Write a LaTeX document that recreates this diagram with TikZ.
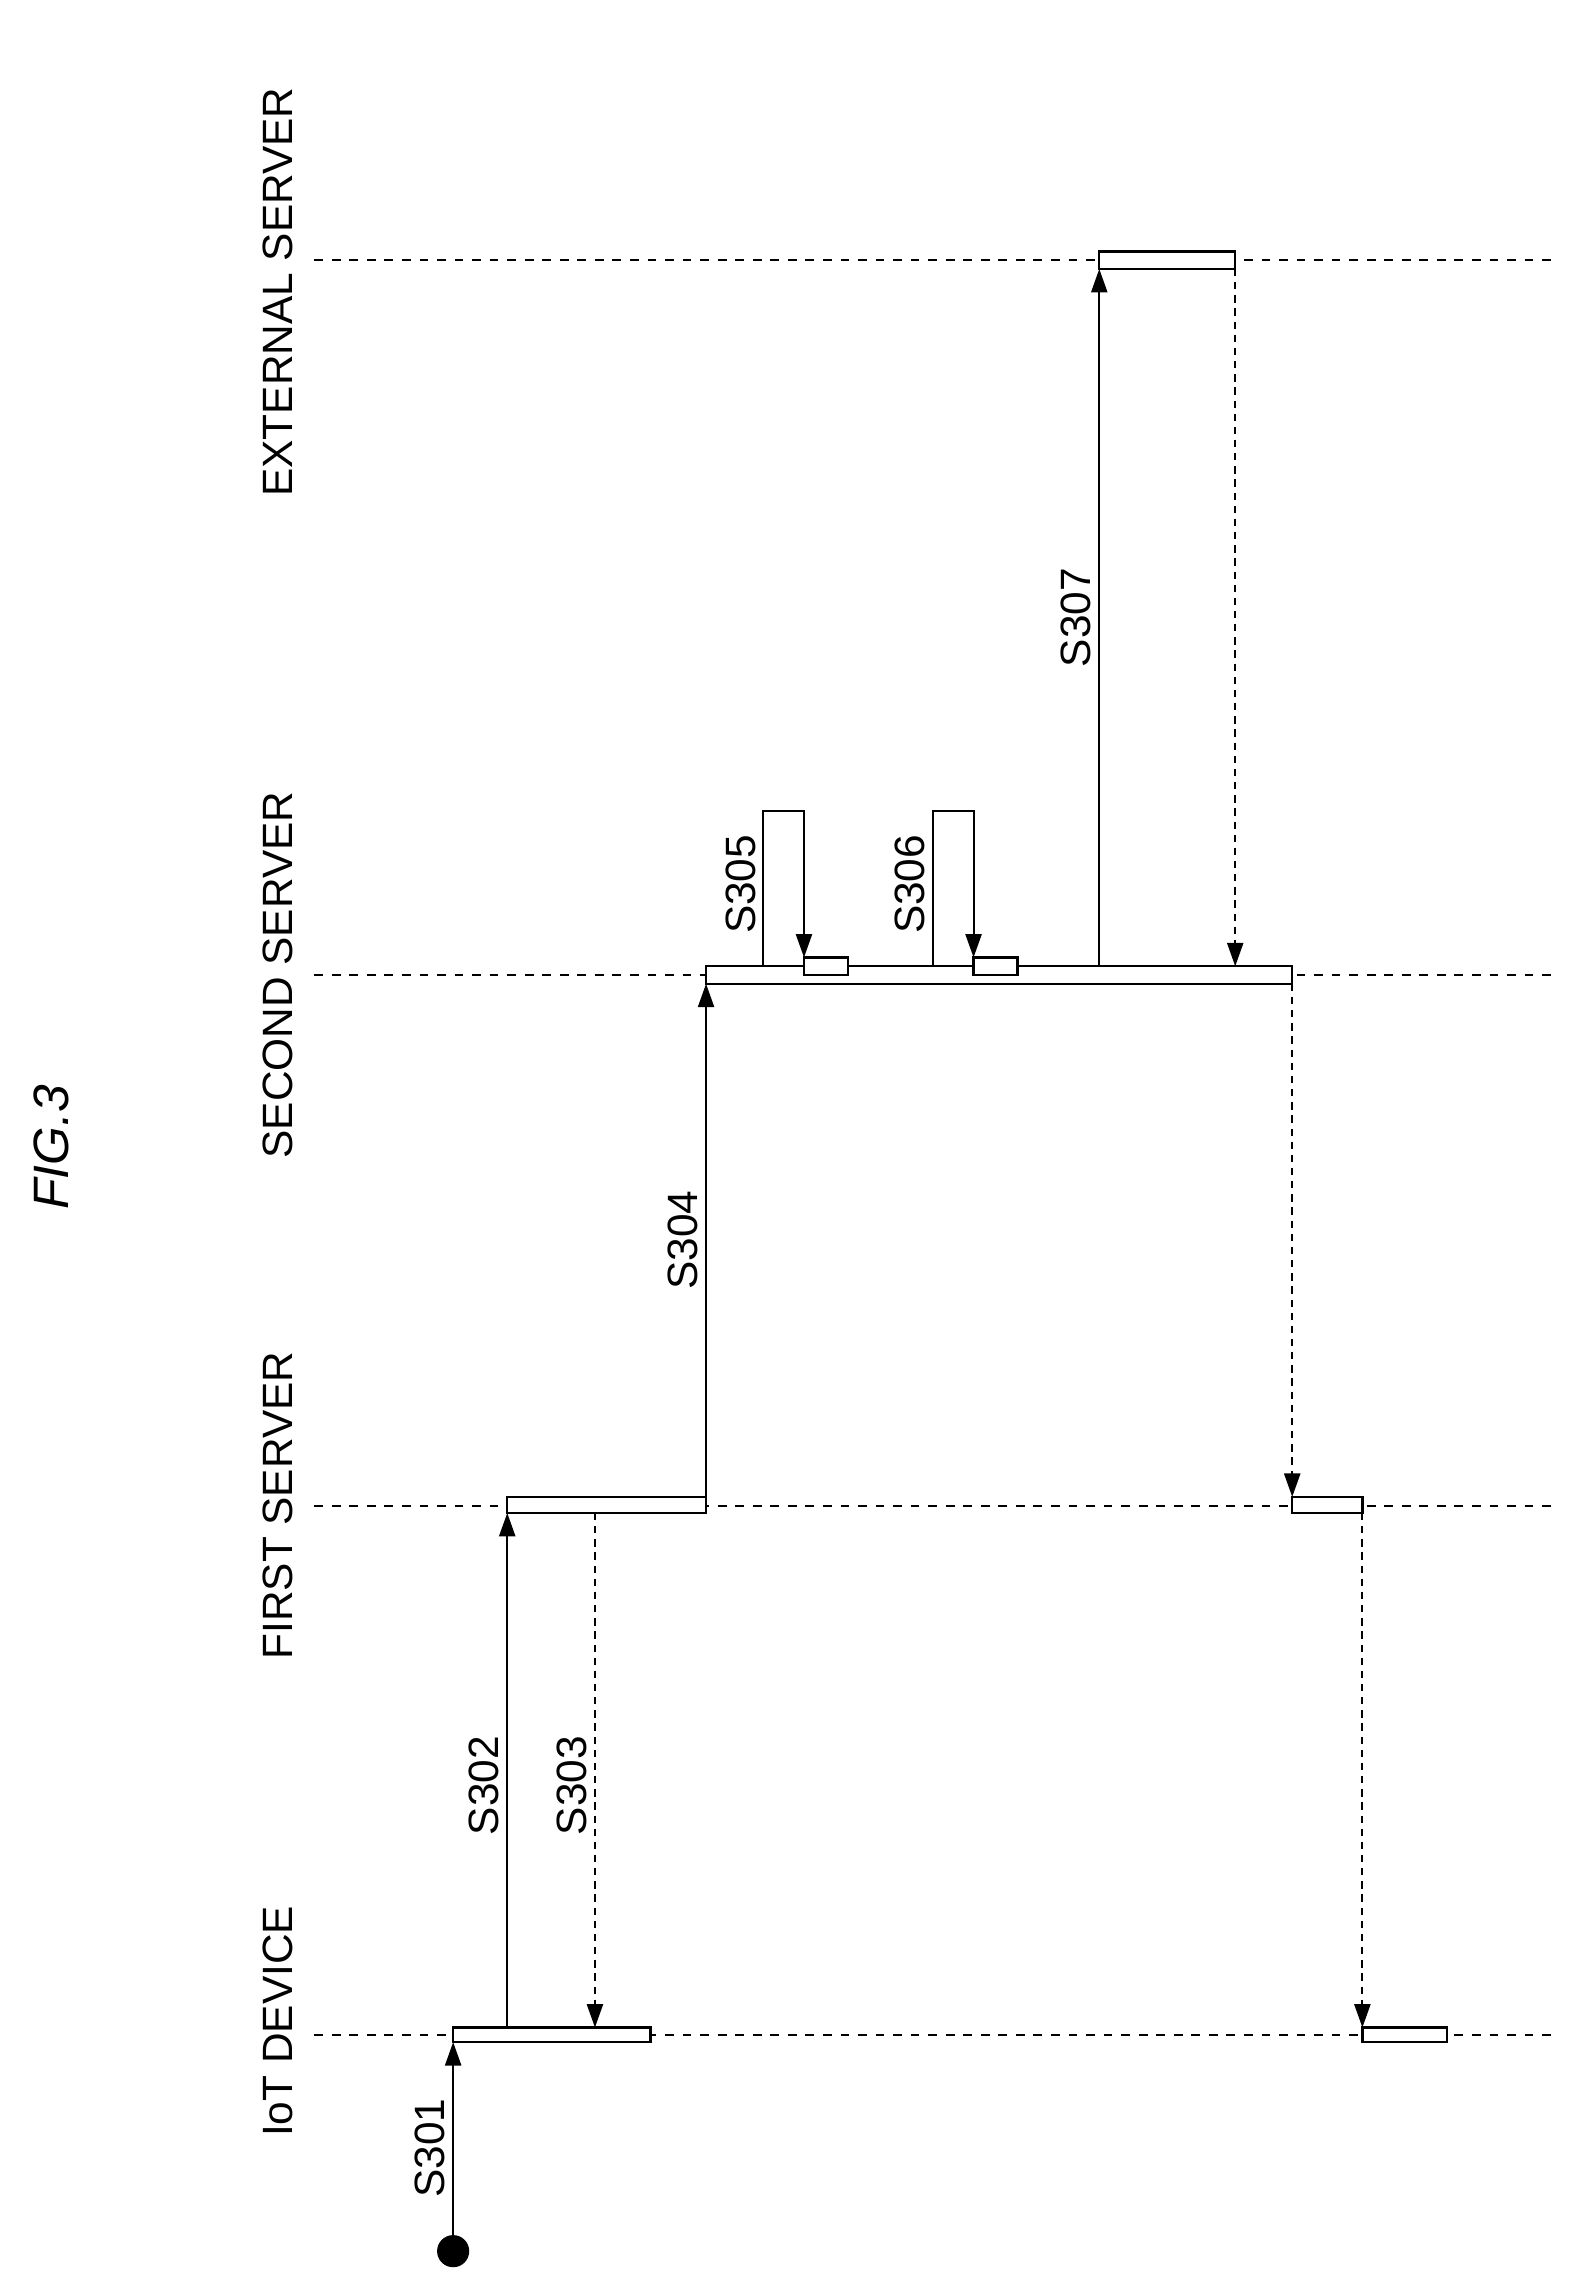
\documentclass[tikz,border=0pt]{standalone}
\usepackage{fontspec}
\setmainfont{Liberation Sans}
\usetikzlibrary{arrows.meta,positioning}
\tikzset{
  lifeline/.style={dashed,line width=1.2pt,dash pattern=on 6pt off 6pt},
  act/.style={draw,line width=1.6pt,fill=white},
  msg/.style={line width=1.4pt,-{Triangle[length=16pt,width=11pt]}},
  reply/.style={msg,dash pattern=on 5pt off 4pt},
  lbl/.style={rotate=90,font=\fontsize{29}{30}\selectfont,inner sep=0pt},
  steplbl/.style={lbl,anchor=south,inner sep=5pt},
}
\begin{document}
\begin{tikzpicture}[x=1pt,y=-1pt]
   \useasboundingbox (0,0) rectangle (1080,1570);
   % title
   \node[lbl,font=\fontsize{34}{36}\selectfont\itshape] (title) at (35,785) {FIG.3};
   % lifelines
   \node[lbl,anchor=west] (iot) at (190,1462) {IoT DEVICE};
   \node[lbl] (fs) at (190,1030) {FIRST SERVER};
   \node[lbl] (ss) at (190,667) {SECOND SERVER};
   \node[lbl,anchor=west] (es) at (190,340) {EXTERNAL SERVER};
   \coordinate (iotL) at (215,1392); \coordinate (iotR) at (1065,1392);
   \coordinate (fsL) at (215,1030); \coordinate (fsR) at (1065,1030);
   \coordinate (ssL) at (215,667); \coordinate (ssR) at (1065,667);
   \coordinate (esL) at (215,178); \coordinate (esR) at (1065,178);
   \draw[lifeline] (iotL) -- (iotR);
   \draw[lifeline] (fsL) -- (fsR);
   \draw[lifeline] (ssL) -- (ssR);
   \draw[lifeline] (esL) -- (esR);
   % activation boxes
   \draw[act] (310,1387) rectangle (445,1397);
   \draw[act] (347,1024) rectangle (483,1035);
   \draw[act] (483,661) rectangle (884,673);
   \draw[act] (550,655) rectangle (580,667);
   \draw[act] (666,655) rectangle (696,667);
   \draw[act] (752,172) rectangle (845,184);
   \draw[act] (884,1024) rectangle (932,1035);
   \draw[act] (932,1387) rectangle (990,1397);
   % messages
   \node[circle,fill,inner sep=0pt,minimum size=22pt] (start) at (310,1540) {};
   \draw[msg] (start) -- (310,1397) node[steplbl,pos=0.45] {S301};
   \draw[msg] (347,1387) -- (347,1035) node[steplbl,pos=0.47] {S302};
   \draw[reply] (407,1035) -- (407,1387) node[steplbl,pos=0.53] {S303};
   \draw[msg] (483,1024) -- (483,673) node[steplbl,pos=0.5] {S304};
   \draw[msg] (522,661) -- (522,555) -- (550,555) -- (550,655);
   \node[steplbl] (s305) at (522,605) {S305};
   \draw[msg] (638,661) -- (638,555) -- (666,555) -- (666,655);
   \node[steplbl] (s306) at (638,605) {S306};
   \draw[msg] (752,661) -- (752,184) node[steplbl,pos=0.5] {S307};
   \draw[reply] (845,184) -- (845,661);
   \draw[reply] (884,673) -- (884,1024);
   \draw[reply] (932,1035) -- (932,1387);
\end{tikzpicture}
\end{document}
